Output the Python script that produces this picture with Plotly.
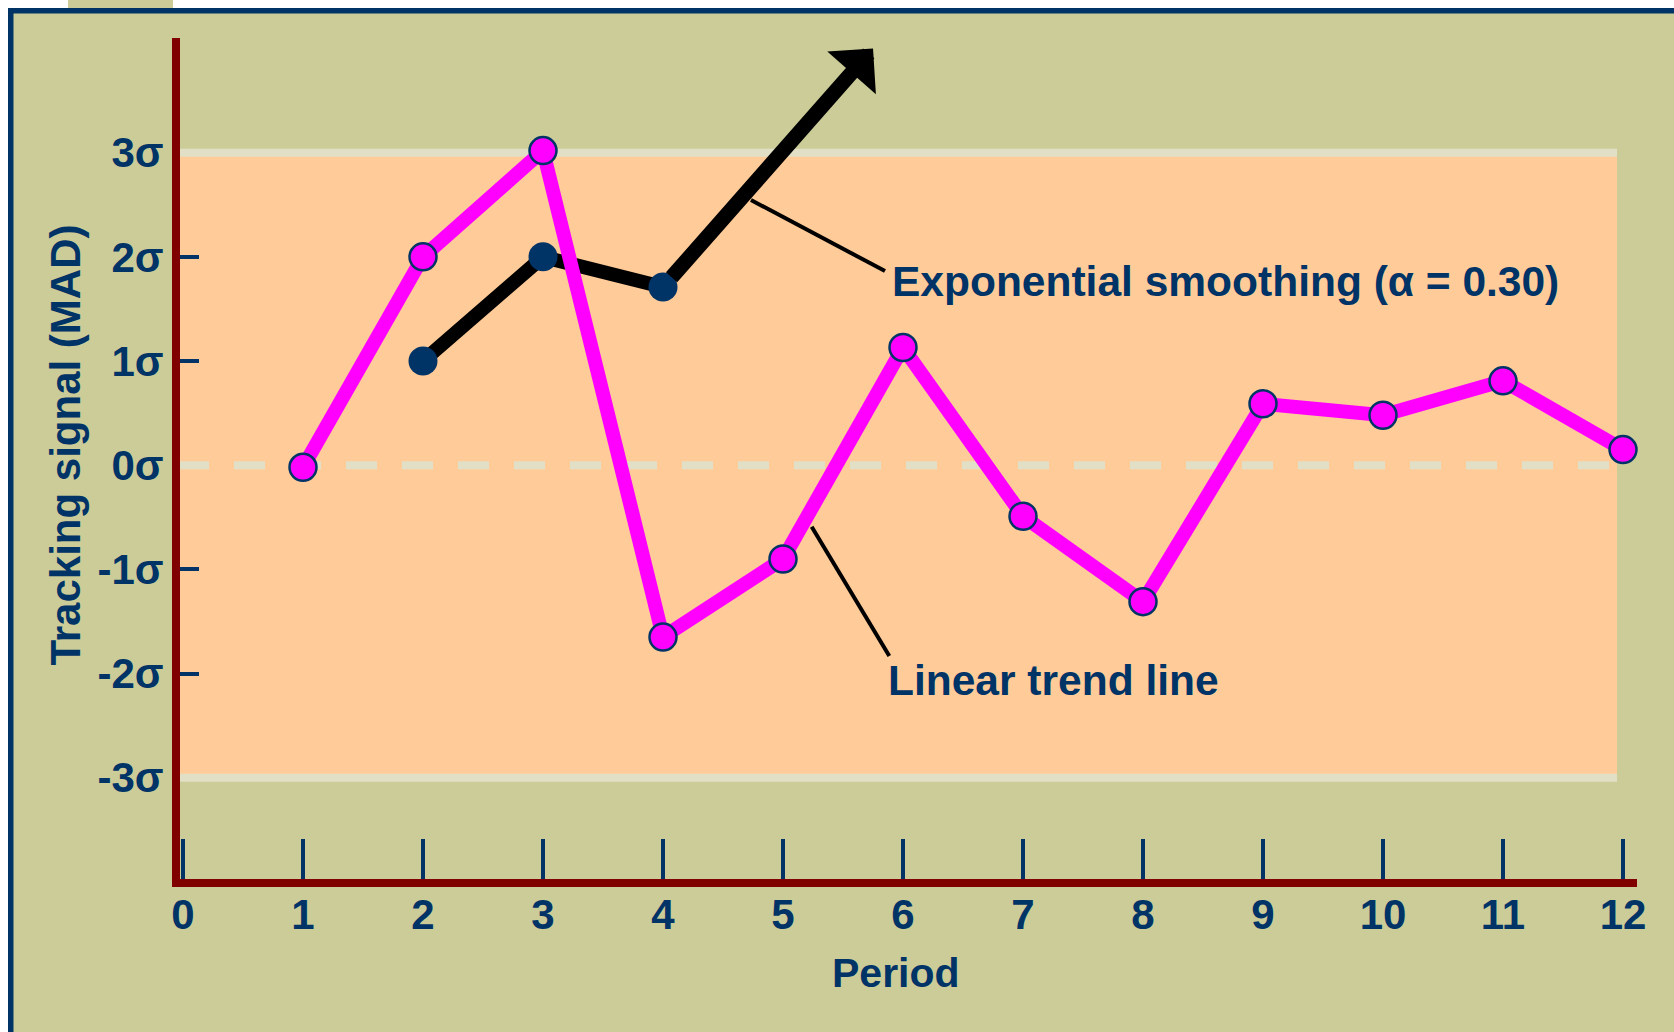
import plotly.graph_objects as go

# Tracking signal per period, in multiples of MAD (sigma)
periods = [1, 2, 3, 4, 5, 6, 7, 8, 9, 10, 11, 12]
linear_trend = [-0.02, 2.0, 3.02, -1.65, -0.90, 1.13, -0.49, -1.31, 0.59, 0.48, 0.81, 0.15]

exp_periods = [2, 3, 4]
exp_smoothing = [1.0, 2.0, 1.71]
exp_projection_end = (5.75, 4.0)   # where the runaway exponential-smoothing arrow points

x_ticks = list(range(0, 13))
y_ticks = [-3, -2, -1, 0, 1, 2, 3]
y_tick_text = ["-3σ", "-2σ", "-1σ", "0σ", "1σ", "2σ", "3σ"]
control_limit = 3

NAVY = "#003366"
MAROON = "#800000"
KHAKI = "#CCCC99"
PEACH = "#FFCC99"
PALE = "#E1E0C6"
MAGENTA = "#FF00FF"
FONT = "Liberation Sans, Arial, Helvetica, sans-serif"

W, H = 1674, 1032
L, R, T, B = 180, 37, 38, 153
PW, PH = W - L - R, H - T - B


def px(xp):
    return (xp - L) / PW


def py(yp):
    return (H - B - yp) / PH


fig = go.Figure()

fig.add_trace(go.Scatter(
    x=exp_periods, y=exp_smoothing, mode="lines+markers",
    line=dict(color="black", width=14),
    marker=dict(size=29, color=NAVY, line=dict(width=0)),
    cliponaxis=False, showlegend=False, hoverinfo="skip",
))
fig.add_trace(go.Scatter(
    x=periods, y=linear_trend, mode="lines+markers",
    line=dict(color=MAGENTA, width=14),
    marker=dict(size=27, color=MAGENTA, line=dict(width=2.5, color=NAVY)),
    cliponaxis=False, showlegend=False, hoverinfo="skip",
))
# tick marks for the inner sigma levels only
fig.add_trace(go.Scatter(x=[None], y=[None], yaxis="y2", showlegend=False))

x_range = [-0.025, 12.1167]
y_range = [-3.972, 4.101]
band_right = 11.95
band_right_paper = (band_right - x_range[0]) / (x_range[1] - x_range[0])

shapes = [
    # slide frame
    dict(type="rect", xref="paper", yref="paper", x0=px(0), x1=px(8), y0=py(H), y1=py(0),
         fillcolor="white", line_width=0, layer="below"),
    dict(type="rect", xref="paper", yref="paper", x0=px(0), x1=px(68), y0=py(8), y1=py(0),
         fillcolor="white", line_width=0, layer="below"),
    dict(type="rect", xref="paper", yref="paper", x0=px(173), x1=px(W), y0=py(8), y1=py(0),
         fillcolor="white", line_width=0, layer="below"),
    dict(type="rect", xref="paper", yref="paper", x0=px(8), x1=px(13.5), y0=py(H), y1=py(8),
         fillcolor=NAVY, line_width=0, layer="below"),
    dict(type="rect", xref="paper", yref="paper", x0=px(8), x1=px(W), y0=py(13.5), y1=py(8),
         fillcolor=NAVY, line_width=0, layer="below"),
    # control band
    dict(type="rect", xref="paper", yref="y", x0=0, x1=band_right_paper,
         y0=-control_limit, y1=control_limit, fillcolor=PEACH, line_width=0, layer="below"),
]
for lim in (-control_limit, control_limit):
    shapes.append(dict(type="line", xref="paper", yref="y", x0=0, x1=band_right_paper,
                       y0=lim, y1=lim, line=dict(color=PALE, width=8), layer="below"))
shapes.append(dict(type="line", xref="paper", yref="y", x0=px(178), x1=band_right_paper,
                   y0=0, y1=0, line=dict(color=PALE, width=8, dash="31px,25px"), layer="below"))
# callout leaders
shapes.append(dict(type="line", xref="x", yref="y", x0=4.733, y0=2.546, x1=5.85, y1=1.864,
                   line=dict(color="black", width=4)))
shapes.append(dict(type="line", xref="x", yref="y", x0=5.239, y0=-0.59, x1=5.886, y1=-1.832,
                   line=dict(color="black", width=4)))

annotations = [
    dict(x=exp_projection_end[0], y=exp_projection_end[1], ax=exp_periods[-1], ay=exp_smoothing[-1],
         xref="x", yref="y", axref="x", ayref="y", text="", showarrow=True,
         arrowhead=1, arrowsize=0.72, arrowwidth=15, arrowcolor="black", startstandoff=11),
    dict(x=5.895, y=1.759, xref="x", yref="y", text="Exponential smoothing (α = 0.30)",
         showarrow=False, xanchor="left", yanchor="middle",
         font=dict(family=FONT, size=42.5, color=NAVY, weight="bold")),
    dict(x=5.855, y=-2.062, xref="x", yref="y", text="Linear trend line",
         showarrow=False, xanchor="left", yanchor="middle",
         font=dict(family=FONT, size=42.5, color=NAVY, weight="bold")),
    dict(x=px(66), y=py(445.6), xref="paper", yref="paper", text="Tracking signal (MAD)",
         textangle=-90, showarrow=False, xanchor="center", yanchor="middle",
         font=dict(family=FONT, size=42, color=NAVY, weight="bold")),
    dict(x=px(896.4), y=py(973), xref="paper", yref="paper", text="Period",
         showarrow=False, xanchor="center", yanchor="middle",
         font=dict(family=FONT, size=41, color=NAVY, weight="bold")),
]

fig.update_layout(
    width=W, height=H,
    margin=dict(l=L, r=R, t=T, b=B, pad=0),
    paper_bgcolor=KHAKI, plot_bgcolor=KHAKI,
    shapes=shapes, annotations=annotations,
    xaxis=dict(
        range=x_range, tickvals=x_ticks, ticks="inside", ticklen=40, tickwidth=4, tickcolor=NAVY,
        showline=True, linecolor=MAROON, linewidth=8, showgrid=False, zeroline=False,
        ticklabelstandoff=-8,
        tickfont=dict(family=FONT, size=42, color=NAVY, weight="bold"),
    ),
    yaxis=dict(
        range=y_range, tickvals=y_ticks, ticktext=y_tick_text, ticks="",
        showline=True, linecolor=MAROON, linewidth=8, showgrid=False, zeroline=False,
        tickfont=dict(family=FONT, size=42, color=NAVY, weight="bold"),
    ),
    yaxis2=dict(
        range=y_range, overlaying="y", side="left", anchor="x",
        tickvals=[v for v in y_ticks if v not in (-control_limit, 0, control_limit)],
        ticks="inside", ticklen=19, tickwidth=4, tickcolor=NAVY, showticklabels=False,
        showline=False, showgrid=False, zeroline=False,
    ),
)

fig.write_html("out.html")
